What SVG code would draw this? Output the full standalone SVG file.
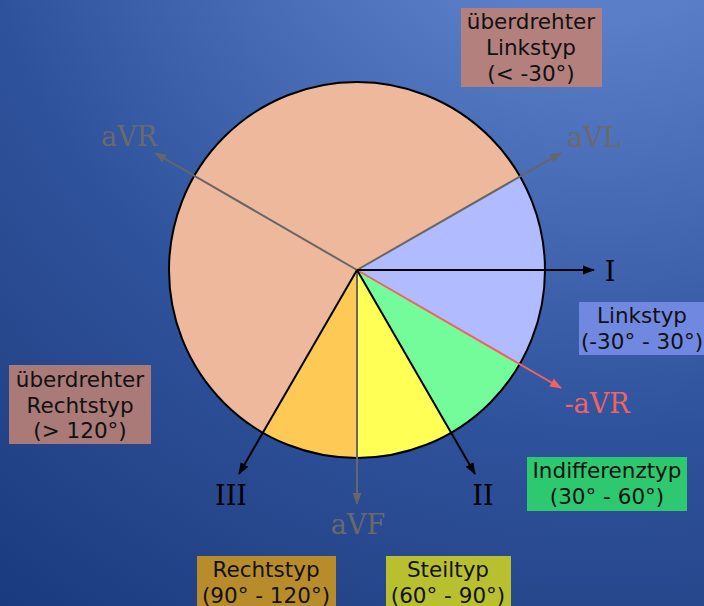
<svg xmlns="http://www.w3.org/2000/svg" width="704" height="606" viewBox="0 0 704 606">
<defs>
<radialGradient id="bg" cx="600" cy="-200" r="1005" gradientUnits="userSpaceOnUse">
<stop offset="0" stop-color="#6a8ad5"/>
<stop offset="0.224" stop-color="#5a7dc8"/>
<stop offset="0.63" stop-color="#2e529c"/>
<stop offset="0.81" stop-color="#27478c"/>
<stop offset="1" stop-color="#1a3a80"/>
</radialGradient>
<marker id="mk" markerWidth="12" markerHeight="10" refX="11" refY="5" orient="auto" markerUnits="userSpaceOnUse"><path d="M0,0.5 L12,5 L0,9.5 Z" fill="#000"/></marker>
<marker id="mg" markerWidth="12" markerHeight="10" refX="11" refY="5" orient="auto" markerUnits="userSpaceOnUse"><path d="M0,0.5 L12,5 L0,9.5 Z" fill="#666"/></marker>
<marker id="mr" markerWidth="12" markerHeight="10" refX="11" refY="5" orient="auto" markerUnits="userSpaceOnUse"><path d="M0,0.5 L12,5 L0,9.5 Z" fill="#f26262"/></marker>
<style>
.box text{font-family:"DejaVu Sans",sans-serif;font-size:21.5px;fill:#111;text-anchor:middle}
.lbl{font-family:"DejaVu Serif",serif;font-size:27px;text-anchor:middle}
.ax{stroke-width:2;fill:none}
</style>
</defs>
<rect width="704" height="606" fill="url(#bg)"/>
<g id="wheel">
<circle cx="357" cy="270" r="188" fill="#edb89c"/>
<path d="M357,270 L519.8,176 A188,188 0 0 1 519.8,364 Z" fill="#b0bcff"/>
<path d="M357,270 L519.8,364 A188,188 0 0 1 451,432.8 Z" fill="#74fc9a"/>
<path d="M357,270 L451,432.8 A188,188 0 0 1 357,458 Z" fill="#ffff55"/>
<path d="M357,270 L357,458 A188,188 0 0 1 263,432.8 Z" fill="#ffc955"/>
<circle cx="357" cy="270" r="188" fill="none" stroke="#000" stroke-width="2"/>
</g>
<g id="connectors">
<line class="ax" x1="357" y1="270" x2="155" y2="153" stroke="#666" marker-end="url(#mg)"/>
<line class="ax" x1="357" y1="270" x2="561" y2="153" stroke="#666" marker-end="url(#mg)"/>
<line class="ax" x1="357" y1="270" x2="357" y2="504" stroke="#666" marker-end="url(#mg)"/>
<line class="ax" x1="357" y1="270" x2="561" y2="388" stroke="#f26262" marker-end="url(#mr)"/>
<line class="ax" x1="357" y1="270" x2="594" y2="270" stroke="#000" stroke-width="2.5" marker-end="url(#mk)"/>
<line class="ax" x1="357" y1="270" x2="475" y2="474" stroke="#000" marker-end="url(#mk)"/>
<line class="ax" x1="357" y1="270" x2="239" y2="474" stroke="#000" marker-end="url(#mk)"/>
</g>
<g id="labels">
<text class="lbl" x="129" y="146" fill="#6a6a6a">aVR</text>
<text class="lbl" x="594" y="147" fill="#6a6a6a">aVL</text>
<text class="lbl" x="610" y="281" fill="#000">I</text>
<text class="lbl" x="597" y="413" fill="#f26262">-aVR</text>
<text class="lbl" x="483" y="505" fill="#000">II</text>
<text class="lbl" x="231" y="505" fill="#000">III</text>
<text class="lbl" x="358" y="534" fill="#6a6a6a">aVF</text>
</g>
<g id="box-ueberdrehter-linkstyp" class="box">
<rect x="461" y="8" width="141" height="79" fill="#b3807e"/>
<text x="531" y="29">überdrehter</text>
<text x="531" y="55">Linkstyp</text>
<text x="531" y="81">(&lt; -30°)</text>
</g>
<g id="box-linkstyp" class="box">
<rect x="579" y="302" width="125" height="53" fill="#7088e0"/>
<text x="642" y="323">Linkstyp</text>
<text x="642" y="349">(-30° - 30°)</text>
</g>
<g id="box-ueberdrehter-rechtstyp" class="box">
<rect x="9" y="365" width="142" height="79" fill="#a97a78"/>
<text x="80" y="387">überdrehter</text>
<text x="80" y="413">Rechtstyp</text>
<text x="80" y="438">(&gt; 120°)</text>
</g>
<g id="box-indifferenztyp" class="box">
<rect x="527" y="457" width="160" height="54" fill="#2ec870"/>
<text x="607" y="478">Indifferenztyp</text>
<text x="607" y="504">(30° - 60°)</text>
</g>
<g id="box-rechtstyp" class="box">
<rect x="197" y="556" width="139" height="54" fill="#b88c2a"/>
<text x="266" y="577">Rechtstyp</text>
<text x="266" y="603">(90° - 120°)</text>
</g>
<g id="box-steiltyp" class="box">
<rect x="386" y="556" width="125" height="54" fill="#b8c030"/>
<text x="448" y="577">Steiltyp</text>
<text x="448" y="603">(60° - 90°)</text>
</g>
</svg>
